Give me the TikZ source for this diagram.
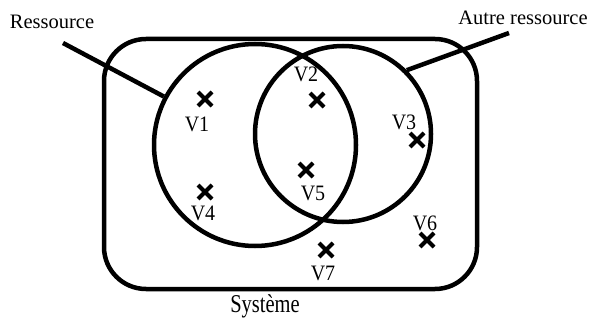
\documentclass[tikz,border=0pt]{standalone}
\usepackage{fontspec}
\setmainfont{Liberation Serif}
\usetikzlibrary{shapes.misc,positioning}

\begin{document}
\begin{tikzpicture}[x=1pt,y=-1pt,line width=4.5pt]
\tikzstyle{vtx}=[draw,cross out,minimum size=10pt,inner sep=0pt,line width=4pt]
\tikzstyle{lbl}=[inner sep=0pt,font=\fontsize{20}{22}\selectfont,yscale=1.1]
\tikzstyle{big}=[inner sep=0pt,font=\fontsize{20.5}{23}\selectfont]
\useasboundingbox (0,0) rectangle (591,320);
% systeme et ressources
\node[draw,rounded corners=42pt,minimum width=373pt,minimum height=250pt] (sys) at (290.5,164) {};
\node[draw,circle,inner sep=0pt,minimum size=202pt] (res) at (255,145) {};
\node[draw,circle,inner sep=0pt,minimum size=176pt] (autre) at (343,134) {};
\node[big] (tres) at (52,22) {Ressource};
\node[big] (tautre) at (523,18) {Autre ressource};
\node[big,yscale=1.25] (tsys) at (265,306) {Système};
\coordinate (pres) at (63,43);
\coordinate (pautre) at (509,33);
\draw (pres) -- (res.152);
\draw (pautre) -- (autre.45);
% sommets
\foreach \n/\x/\y/\lx/\ly in {1/205/99/197/124,2/317/100/306/74,3/417/140/404/122,4/205/192/203/213,5/306/170/313/193,6/427/240/425/223,7/326/250/323/273} {
 \node[vtx] (v\n) at (\x,\y) {};
 \node[lbl] (l\n) at (\lx,\ly) {V\n};
}
\end{tikzpicture}
\end{document}
